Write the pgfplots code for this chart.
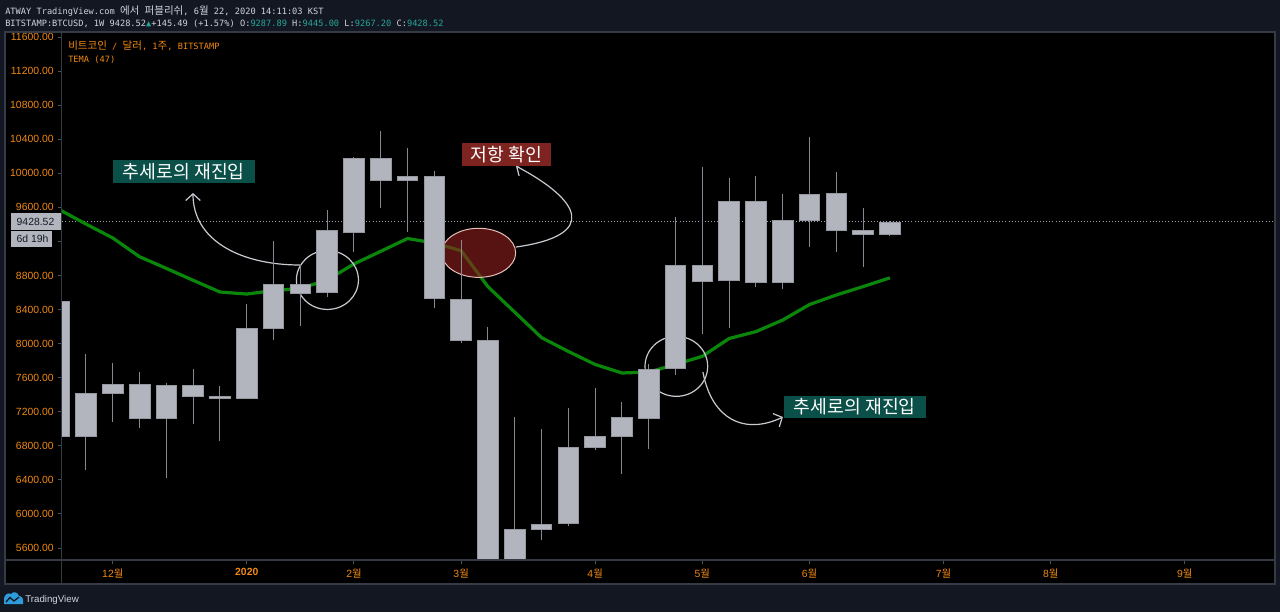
\documentclass[border=0pt]{standalone}
\usepackage{fontspec}
\setmainfont{Liberation Sans}
\newfontfamily\cjk{Noto Sans CJK KR}
\newfontfamily\mono{DejaVu Sans Mono}
\usepackage{pgfplots}
\pgfplotsset{compat=1.18}
\usepackage{pgfplotstable}
\usepgfplotslibrary{statistics}
\usetikzlibrary{arrows.meta}

\definecolor{bgnavy}{HTML}{131722}
\definecolor{panelline}{HTML}{363A45}
\definecolor{tickgray}{HTML}{4C525E}
\definecolor{scaleorange}{RGB}{240,136,18}
\definecolor{bodygray}{HTML}{B2B5BE}
\definecolor{bodyedge}{HTML}{9598A1}
\definecolor{wickgray}{HTML}{868993}
\definecolor{temagreen}{RGB}{10,135,10}
\definecolor{teallabel}{RGB}{10,80,72}
\definecolor{redlabel}{RGB}{125,36,32}
\definecolor{zonered}{RGB}{140,32,28}
\definecolor{zoneedge}{RGB}{230,190,185}
\definecolor{annot}{RGB}{200,202,208}
\definecolor{headtext}{HTML}{D1D4DC}
\definecolor{upteal}{HTML}{26A69A}
\definecolor{logoblue}{RGB}{45,156,219}

\newcommand\K[1]{{\cjk #1}}
\newcommand\Kh[1]{{\cjk\fontsize{7.9}{9}\selectfont #1}}

% weekly BTCUSD candles (Bitstamp), one row per week starting 18 Nov 2019
\pgfplotstableread{
i O H L C
0 8500 8660 6790 6908
1 6908 7874 6516 7412
2 7412 7772 7083 7522
3 7518 7667 7005 7118
4 7118 7535 6425 7506
5 7510 7698 7052 7385
6 7377 7502 6856 7358
7 7358 8465 7345 8180
8 8180 9205 8039 8696
9 8696 8923 8210 8591
10 8598 9569 8551 9326
11 9310 10190 9072 10171
12 10171 10500 9596 9913
13 9921 10297 9310 9960
14 9968 10027 8414 8532
15 8520 9216 8003 8034
16 8034 8191 3850 5360
17 5360 7142 4440 5820
18 5820 6997 5690 5878
19 5885 7244 5858 6782
20 6782 7475 6751 6915
21 6912 7311 6469 7130
22 7126 7761 6762 7702
23 7710 9483 7631 8915
24 8923 10077 8113 8731
25 8743 9941 8187 9666
26 9674 9968 8668 8720
27 8715 9760 8638 9448
28 9448 10426 9138 9753
29 9760 10011 9079 9330
30 9330 9596 8903 9287.89
31 9287.89 9445.00 9267.20 9428.52
}\ohlc

% TEMA(47) values at each week
\pgfplotstableread{
i t
0 9574
1 9404
2 9240
3 9020
4 8883
5 8743
6 8606
7 8582
8 8623
9 8647
10 8747
11 8935
12 9084
13 9234
14 9181
15 9091
16 8668
17 8369
18 8070
19 7908
20 7755
21 7655
22 7666
23 7755
24 7851
25 8060
26 8141
27 8277
28 8459
29 8571
30 8670
31 8772
}\tema

\pgfplotsset{
  candle/.style={
    solid, draw=wickgray, line width=0.75pt,
    boxplot/box extend=0.77,
    boxplot/whisker extend=0,
    boxplot/every box/.style={fill=bodygray, draw=bodyedge, line width=0.6pt},
    boxplot/every whisker/.style={draw=wickgray, line width=0.75pt},
    boxplot/every median/.style={draw=bodyedge, line width=0.6pt},
  },
}

\begin{document}
\begin{tikzpicture}[x=0.75pt, y=-0.75pt]
% page and chart panel
\fill[bgnavy] (0,0) rectangle (1280,612);
\fill[black] (5,32) rectangle (1275,584);
\coordinate (plotSW) at (61.5,560);

\begin{axis}[
  at={(plotSW)}, anchor=south west,
  scale only axis, width=910.125pt, height=396pt,
  xmin=0.086, xmax=45.37, ymin=5459.1, ymax=11658.7,
  axis line style={draw=none},
  axis background/.style={fill=black},
  tick align=outside, major tick length=3pt,
  xtick pos=left, ytick pos=left,
  tick style={draw=tickgray, line width=0.75pt},
  xtick={2,7,11,15,20,24,28,33,37,42},
  xticklabels={12\K{월}, \textbf{2020}, 2\K{월}, 3\K{월}, 4\K{월}, 5\K{월}, 6\K{월}, 7\K{월}, 8\K{월}, 9\K{월}},
  ytick={5600,6000,6400,6800,7200,7600,8000,8400,8800,9600,10000,10400,10800,11200,11600},
  extra y ticks={9200}, extra y tick labels={},
  scaled y ticks=false,
  ticklabel style={font=\fontsize{7.8}{9}\selectfont, text=scaleorange},
  yticklabel style={/pgf/number format/fixed, /pgf/number format/fixed zerofill,
    /pgf/number format/precision=2, /pgf/number format/1000 sep={},
    /pgf/number format/assume math mode=true, xshift=0.6pt},
  boxplot/draw direction=y,
  clip=true,
]
% last price line
\addplot[annot!80!black, line width=0.75pt, dash pattern=on 0.75pt off 1.6pt] coordinates {(0,9428.52) (46,9428.52)};
% TEMA (47)
\addplot[temagreen, line width=2.4pt, line join=round] table[x=i, y=t] {\tema};

% resistance zone
\fill[zonered, fill opacity=0.62] (axis cs:15.653,9066) ellipse [x radius=27.75pt, y radius=18.4pt];
\draw[zoneedge, line width=0.75pt] (axis cs:15.653,9066) ellipse [x radius=27.75pt, y radius=18.4pt];
% re-entry circles
\draw[annot, line width=0.9pt] (axis cs:10.01,8747) ellipse [x radius=23.25pt, y radius=22.1pt];
\draw[annot, line width=0.9pt] (axis cs:23.03,7733) ellipse [x radius=23.5pt, y radius=22.5pt];
% arrows
\draw[annot, line width=0.9pt, -{Straight Barb[length=5pt, width=11pt]}]
  (axis cs:8.985,8923) .. controls (axis cs:6.746,8923) and (axis cs:4.993,9216) .. (axis cs:4.993,9768);
\draw[annot, line width=0.9pt, -{Straight Barb[length=5pt, width=11pt]}]
  (axis cs:17.045,9134) .. controls (axis cs:20.18,9275) and (axis cs:19.433,9686) .. (axis cs:17.045,10085);
\draw[annot, line width=0.9pt, -{Straight Barb[length=5pt, width=11pt]}]
  (axis cs:24.022,7666) .. controls (axis cs:24.358,7103) and (axis cs:25.589,6927) .. (axis cs:27.007,7138);

% candles
\pgfplotsinvokeforeach{0,...,31}{%
  \pgfplotstablegetelem{#1}{O}\of\ohlc\let\cO\pgfplotsretval
  \pgfplotstablegetelem{#1}{H}\of\ohlc\let\cH\pgfplotsretval
  \pgfplotstablegetelem{#1}{L}\of\ohlc\let\cL\pgfplotsretval
  \pgfplotstablegetelem{#1}{C}\of\ohlc\let\cC\pgfplotsretval
  \pgfmathsetmacro\cLo{min(\cO,\cC)}%
  \pgfmathsetmacro\cHi{max(\cO,\cC)}%
  \edef\doCandle{\noexpand\addplot[candle, boxplot prepared={draw position=#1,
      lower whisker=\cL, lower quartile=\cLo, median=\cHi,
      upper quartile=\cHi, upper whisker=\cH}] coordinates {};}%
  \doCandle
}
\end{axis}

% panel frame and scale separators
\draw[panelline, line width=0.9pt] (5,32) rectangle (1275,584);
\draw[panelline, line width=0.9pt] (61.5,32) -- (61.5,584);
\draw[panelline, line width=0.9pt] (5,560) -- (1275,560);

% header
\node[anchor=base west, inner sep=0pt, text=headtext, font=\mono\fontsize{6.5}{8}\selectfont] at (5,14)
  {ATWAY TradingView.com \Kh{에서} \Kh{퍼블리쉬}, 6\Kh{월} 22, 2020 14:11:03 KST};
\node[anchor=base west, inner sep=0pt, text=headtext, font=\mono\fontsize{6.5}{8}\selectfont] at (5,26.5)
  {BITSTAMP:BTCUSD, 1W 9428.52\textcolor{upteal}{▲}+145.49 (+1.57\%) O:\textcolor{upteal}{9287.89} H:\textcolor{upteal}{9445.00} L:\textcolor{upteal}{9267.20} C:\textcolor{upteal}{9428.52}};

% series legend
\node[anchor=base west, inner sep=0pt, text=scaleorange, font=\mono\fontsize{6.5}{8}\selectfont] at (68,49)
  {\Kh{비트코인} / \Kh{달러}, 1\Kh{주}, BITSTAMP};
\node[anchor=base west, inner sep=0pt, text=scaleorange, font=\mono\fontsize{6.5}{8}\selectfont] at (68,62)
  {TEMA (47)};

% annotation labels
\node[fill=teallabel, text=white, font=\cjk\fontsize{13.7}{16}\selectfont, minimum width=106.5pt, minimum height=17.25pt, inner sep=0pt] at (183.8,171.7) {추세로의 재진입};
\node[fill=redlabel, text=white, font=\cjk\fontsize{13.7}{16}\selectfont, minimum width=66.75pt, minimum height=17.25pt, inner sep=0pt] at (506.2,154.3) {저항 확인};
\node[fill=teallabel, text=white, font=\cjk\fontsize{13.7}{16}\selectfont, minimum width=106.3pt, minimum height=17pt, inner sep=0pt] at (854.8,407) {추세로의 재진입};

% last price and countdown tags on the price scale
\fill[bodygray] (10.7,213.3) rectangle (61,230);
\node[text=bgnavy, font=\fontsize{7.8}{9}\selectfont, inner sep=0pt] at (35.5,221.7) {9428.52};
\fill[bodygray] (10.7,230.7) rectangle (51.7,246.7);
\node[text=bgnavy, font=\fontsize{7.8}{9}\selectfont, inner sep=0pt] at (32.5,238.7) {6d 19h};

% footer mark
\fill[logoblue]
  (4,604) -- (4,599) .. controls (4,595) and (8,592) .. (11,594) .. controls (13,591) and (18,592) .. (19,596)
  .. controls (22,596) and (24,599) .. (23,604) -- cycle;
\draw[bgnavy, line width=1pt] (6,602) -- (10,597.5) -- (14,601) -- (19,597);
\node[anchor=base west, inner sep=0pt, text=headtext, font=\fontsize{7.3}{9}\selectfont] at (25,602) {TradingView};

\pgfresetboundingbox
\useasboundingbox (0,0) rectangle (1280,612);
\end{tikzpicture}
\end{document}
